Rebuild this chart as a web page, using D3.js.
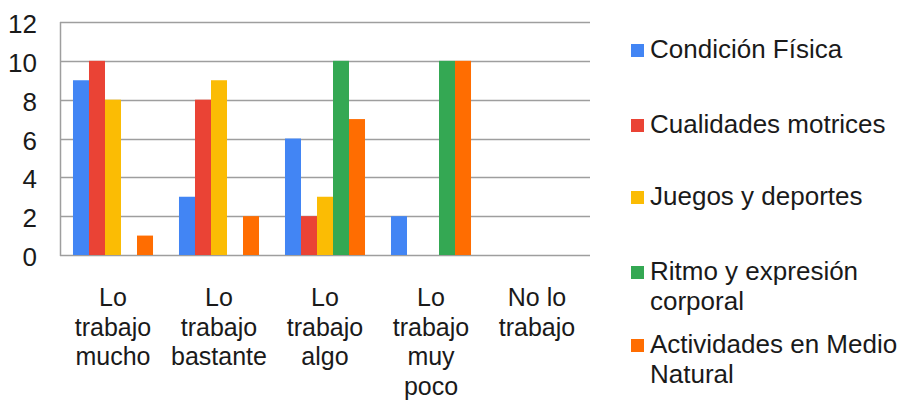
<!DOCTYPE html>
<html><head><meta charset="utf-8">
<script src="https://cdn.jsdelivr.net/npm/d3@7"></script>
<style>body{margin:0;background:#fff}svg{display:block}text{font-family:"Liberation Sans",Arial,sans-serif;fill:#1a1a1a}</style>
</head><body><svg id="c" width="904" height="403"></svg>
<script>
const categories = [["Lo","trabajo","mucho"],["Lo","trabajo","bastante"],["Lo","trabajo","algo"],["Lo","trabajo","muy","poco"],["No lo","trabajo"]];
const seriesNames = [["Condición Física"],["Cualidades motrices"],["Juegos y deportes"],["Ritmo y expresión","corporal"],["Actividades en Medio","Natural"]];
const colors = ["#4285F4","#EA4335","#FBBC04","#34A853","#FF6D01"];
const condicion = [9,3,6,2,0];
const cualidades = [10,8,2,0,0];
const juegos = [8,9,3,0,0];
const ritmo = [0,0,10,10,0];
const actividades = [1,2,7,10,0];
const yTicks = [0,2,4,6,8,10,12];
const series = [condicion,cualidades,juegos,ritmo,actividades];

(function(){
const svg = d3.select("#c");
const pl=60, pr=590, pt=22, pb=255;
const x0 = d3.scaleBand().domain(d3.range(categories.length)).range([pl,pr]).paddingInner(0.245).paddingOuter(0.1225);
const x1 = d3.scaleBand().domain(d3.range(series.length)).range([0,x0.bandwidth()]);
const y = d3.scaleLinear().domain([0,12]).range([pb,pt]);

svg.append("g").selectAll("line").data(yTicks).join("line")
  .attr("x1",pl).attr("x2",pr).attr("y1",d=>Math.round(y(d))+0.5).attr("y2",d=>Math.round(y(d))+0.5)
  .attr("stroke","#9e9e9e").attr("stroke-width",1.5);
svg.append("line").attr("x1",pl+0.5).attr("x2",pl+0.5).attr("y1",pt).attr("y2",pb+1).attr("stroke","#9e9e9e").attr("stroke-width",1.5);

svg.append("g").selectAll("text").data(yTicks).join("text")
  .attr("x",37).attr("y",d=>y(d)+11).attr("text-anchor","end").attr("font-size",26).text(d=>d);

const g = svg.append("g");
categories.forEach((c,ci)=>{
  series.forEach((s,si)=>{
    if(s[ci]>0) g.append("rect").attr("x",x0(ci)+x1(si)).attr("width",x1.bandwidth())
      .attr("y",y(s[ci])).attr("height",y(0)-y(s[ci])).attr("fill",colors[si]);
  });
});

categories.forEach((c,ci)=>{
  const t = svg.append("text").attr("text-anchor","middle").attr("font-size",25);
  c.forEach((line,li)=>t.append("tspan").attr("x",x0(ci)+x0.bandwidth()/2).attr("y",306+li*29.5).text(line));
});

const legBase = [58,133,205,280,353];
seriesNames.forEach((n,i)=>{
  svg.append("rect").attr("x",631).attr("y",legBase[i]-14).attr("width",13).attr("height",13).attr("fill",colors[i]);
  const t = svg.append("text").attr("font-size",26);
  n.forEach((line,li)=>t.append("tspan").attr("x",650).attr("y",legBase[i]+li*30).text(line));
});
})();
</script></body></html>
